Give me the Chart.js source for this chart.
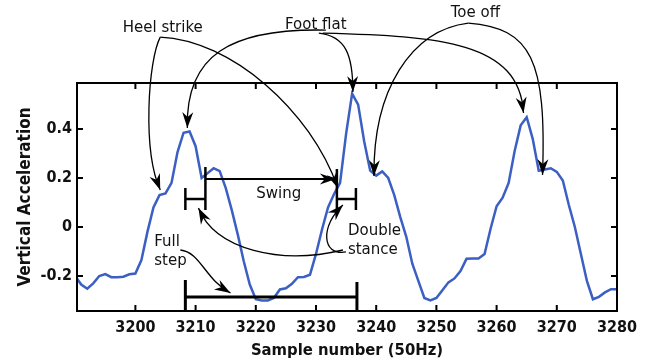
<!DOCTYPE html>
<html>
<head>
<meta charset="utf-8">
<script src="https://cdn.jsdelivr.net/npm/chart.js@4/dist/chart.umd.min.js"></script>
<style>
  html, body { margin: 0; padding: 0; background: #fff; }
  #wrap { width: 649px; height: 364px; position: relative; }
</style>
</head>
<body>
<div id="wrap"><canvas id="gait"></canvas></div>
<script>
// sample numbers (50Hz) and vertical acceleration
const samples = [
  3190, 3191, 3192, 3193, 3194, 3195, 3196, 3197, 3198, 3199,
  3200, 3201, 3202, 3203, 3204, 3205, 3206, 3207, 3208, 3209,
  3210, 3211, 3212, 3213, 3214, 3215, 3216, 3217, 3218, 3219,
  3220, 3221, 3222, 3223, 3224, 3225, 3226, 3227, 3228, 3229,
  3230, 3231, 3232, 3233, 3234, 3235, 3236, 3237, 3238, 3239,
  3240, 3241, 3242, 3243, 3244, 3245, 3246, 3247, 3248, 3249,
  3250, 3251, 3252, 3253, 3254, 3255, 3256, 3257, 3258, 3259,
  3260, 3261, 3262, 3263, 3264, 3265, 3266, 3267, 3268, 3269,
  3270, 3271, 3272, 3273, 3274, 3275, 3276, 3277, 3278, 3279,
  3280
];
const accel = [
  -0.20, -0.235, -0.252, -0.23, -0.20, -0.192, -0.205, -0.205, -0.203, -0.193,
  -0.19, -0.135, -0.02, 0.08, 0.13, 0.137, 0.18, 0.306, 0.385, 0.39,
  0.33, 0.20, 0.22, 0.24, 0.228, 0.16, 0.07, -0.03, -0.14, -0.235,
  -0.295, -0.30, -0.30, -0.29, -0.255, -0.25, -0.232, -0.205, -0.204, -0.195,
  -0.11, -0.01, 0.08, 0.135, 0.18, 0.38, 0.545, 0.50, 0.35, 0.23,
  0.21, 0.227, 0.20, 0.13, 0.04, -0.04, -0.15, -0.22, -0.29, -0.30,
  -0.29, -0.258, -0.226, -0.21, -0.18, -0.13, -0.129, -0.129, -0.11, -0.007,
  0.085, 0.12, 0.18, 0.31, 0.415, 0.448, 0.36, 0.23, 0.235, 0.24,
  0.225, 0.19, 0.09, 0.0, -0.11, -0.22, -0.295, -0.285, -0.267, -0.254,
  -0.254
];

const xTicks = [3200, 3210, 3220, 3230, 3240, 3250, 3260, 3270, 3280];
const yTicks = [-0.2, 0, 0.2, 0.4];
const yTickLabels = ["-0.2", "0", "0.2", "0.4"];

// annotation layer, in data units (sample, acceleration)
const labels = [
  { text: "Heel strike", x: 3204.55, y: 0.812, align: "center" },
  { text: "Foot flat", x: 3229.97, y: 0.8245, align: "center" },
  { text: "Toe off", x: 3256.47, y: 0.8735, align: "center" },
  { text: "Swing", x: 3223.8, y: 0.1347, align: "center" },
  { text: "Double", x: 3235.3, y: -0.0163, align: "left" },
  { text: "stance", x: 3235.3, y: -0.0939, align: "left" },
  { text: "Full", x: 3203.13, y: -0.0612, align: "left" },
  { text: "step", x: 3203.13, y: -0.1388, align: "left" }
];
// cubic curves: start, control 1, control 2, arrow tip
const arrows = [
  [[3204.13, 0.7755], [3202.13, 0.6816], [3201.13, 0.3143], [3204.13, 0.151]],
  [[3204.13, 0.7755], [3215.8, 0.7633], [3229.13, 0.4776], [3233.63, 0.1592]],
  [[3231.63, 0.8041], [3215.8, 0.8122], [3208.3, 0.702], [3208.63, 0.4041]],
  [[3230.47, 0.7918], [3234.97, 0.7796], [3236.13, 0.702], [3236.13, 0.551]],
  [[3231.13, 0.7918], [3250.8, 0.7796], [3263.8, 0.7551], [3264.47, 0.4653]],
  [[3255.3, 0.8327], [3245.8, 0.8041], [3239.47, 0.5592], [3239.63, 0.2082]],
  [[3255.3, 0.8327], [3265.8, 0.8122], [3268.3, 0.6816], [3267.63, 0.2122]],
  [[3234.47, -0.0939], [3224.13, -0.155], [3213.3, -0.0939], [3210.47, 0.0776]],
  [[3234.97, -0.102], [3230.8, -0.1184], [3230.8, 0.0082], [3234.47, 0.0898]],
  [[3207.47, -0.0939], [3210.8, -0.102], [3211.63, -0.2163], [3215.8, -0.2694]],
  [[3211.63, 0.1959], [3220, 0.1959], [3228, 0.1959], [3233.3, 0.1959]]
];
// bracket segments: [x1, y1, x2, y2, width]
const brackets = [
  [3211.63, 0.2449, 3211.63, 0.0694, 2.5],
  [3233.47, 0.2367, 3233.47, 0.0694, 2.5],
  [3208.3, 0.1592, 3208.3, 0.0694, 2.5],
  [3208.3, 0.1143, 3211.63, 0.1143, 2.5],
  [3233.47, 0.1143, 3236.63, 0.1143, 2.5],
  [3236.63, 0.1592, 3236.63, 0.0694, 2.5],
  [3208.3, -0.2857, 3236.8, -0.2857, 3],
  [3208.3, -0.2163, 3208.3, -0.343, 3],
  [3236.8, -0.2245, 3236.8, -0.343, 3]
];

function bez(c, t) {
  const u = 1 - t;
  return [
    u*u*u*c[0][0] + 3*u*u*t*c[1][0] + 3*u*t*t*c[2][0] + t*t*t*c[3][0],
    u*u*u*c[0][1] + 3*u*u*t*c[1][1] + 3*u*t*t*c[2][1] + t*t*t*c[3][1]
  ];
}

function arrowHead(ctx, tip, from) {
  const ang = Math.atan2(tip[1] - from[1], tip[0] - from[0]);
  ctx.save();
  ctx.translate(tip[0], tip[1]);
  ctx.rotate(ang);
  ctx.beginPath();
  ctx.moveTo(0, 0);
  ctx.lineTo(-16, -5.5);
  ctx.lineTo(-11, 0);
  ctx.lineTo(-16, 5.5);
  ctx.closePath();
  ctx.fill();
  ctx.restore();
}

const overlay = {
  id: "overlay",
  afterDraw(chart) {
    const { ctx, chartArea: a } = chart;
    const sx = chart.scales.x, sy = chart.scales.y;
    const P = (pt) => [sx.getPixelForValue(pt[0]), sy.getPixelForValue(pt[1])];
    ctx.save();
    ctx.strokeStyle = "#000";
    ctx.fillStyle = "#000";

    // frame and inward ticks
    ctx.lineWidth = 2;
    ctx.strokeRect(a.left, a.top, a.right - a.left, a.bottom - a.top);
    ctx.beginPath();
    xTicks.forEach(v => {
      const px = sx.getPixelForValue(v);
      ctx.moveTo(px, a.bottom); ctx.lineTo(px, a.bottom - 6);
      ctx.moveTo(px, a.top); ctx.lineTo(px, a.top + 6);
    });
    yTicks.forEach(v => {
      const py = sy.getPixelForValue(v);
      ctx.moveTo(a.left, py); ctx.lineTo(a.left + 6, py);
      ctx.moveTo(a.right, py); ctx.lineTo(a.right - 6, py);
    });
    ctx.stroke();

    // brackets
    brackets.forEach(b => {
      const p1 = P([b[0], b[1]]), p2 = P([b[2], b[3]]);
      ctx.lineWidth = b[4];
      ctx.beginPath();
      ctx.moveTo(p1[0], p1[1]);
      ctx.lineTo(p2[0], p2[1]);
      ctx.stroke();
    });

    // curved arrows
    arrows.forEach((c, i) => {
      const pts = c.map(P);
      ctx.lineWidth = i === arrows.length - 1 ? 2 : 1.3;
      ctx.beginPath();
      ctx.moveTo(pts[0][0], pts[0][1]);
      ctx.bezierCurveTo(pts[1][0], pts[1][1], pts[2][0], pts[2][1], pts[3][0], pts[3][1]);
      ctx.stroke();
      arrowHead(ctx, pts[3], bez(pts, 0.92));
    });

    // texts
    ctx.font = '15px "DejaVu Sans"';
    ctx.fillStyle = "#111";
    ctx.textBaseline = "middle";
    labels.forEach(l => {
      const p = P([l.x, l.y]);
      ctx.textAlign = l.align;
      ctx.fillText(l.text, p[0], p[1]);
    });
    ctx.restore();
  }
};

const tickFont = { family: '"DejaVu Sans Condensed", "DejaVu Sans"', size: 16, weight: "bold" };
const xTitleFont = { family: '"DejaVu Sans Condensed", "DejaVu Sans"', size: 16.5, weight: "bold" };
const yTitleFont = { family: '"DejaVu Sans Condensed", "DejaVu Sans"', size: 17, weight: "bold" };

new Chart(document.getElementById("gait").getContext("2d"), {
  type: "scatter",
  data: {
    datasets: [{
      data: samples.map((s, i) => ({ x: s, y: accel[i] })),
      showLine: true,
      pointRadius: 0,
      borderColor: "#3b5fc2",
      borderWidth: 2.5,
      tension: 0
    }]
  },
  options: {
    responsive: true,
    maintainAspectRatio: false,
    animation: false,
    layout: { padding: { top: 83, right: 32, left: 0, bottom: 0 } },
    plugins: { legend: { display: false }, tooltip: { enabled: false } },
    scales: {
      x: {
        type: "linear",
        min: 3190.3,
        max: 3280,
        grid: { display: false, drawTicks: false },
        border: { display: false },
        afterBuildTicks: s => { s.ticks = xTicks.map(v => ({ value: v })); },
        afterFit: s => { s.height = 53; },
        ticks: { font: tickFont, color: "#111", padding: 7, maxRotation: 0, autoSkip: false,
                 callback: v => String(v) },
        title: { display: true, text: "Sample number (50Hz)", font: xTitleFont, color: "#111",
                 padding: { top: 0, bottom: 3 } }
      },
      y: {
        min: -0.343,
        max: 0.588,
        grid: { display: false, drawTicks: false },
        border: { display: false },
        afterBuildTicks: s => { s.ticks = yTicks.map(v => ({ value: v })); },
        afterFit: s => { s.width = 77; },
        ticks: { font: tickFont, color: "#111", padding: 5,
                 callback: (v) => yTickLabels[yTicks.indexOf(v)] },
        title: { display: true, text: "Vertical Acceleration", font: yTitleFont, color: "#111",
                 padding: { top: 15, bottom: 0 } }
      }
    }
  },
  plugins: [overlay]
});
</script>
</body>
</html>
